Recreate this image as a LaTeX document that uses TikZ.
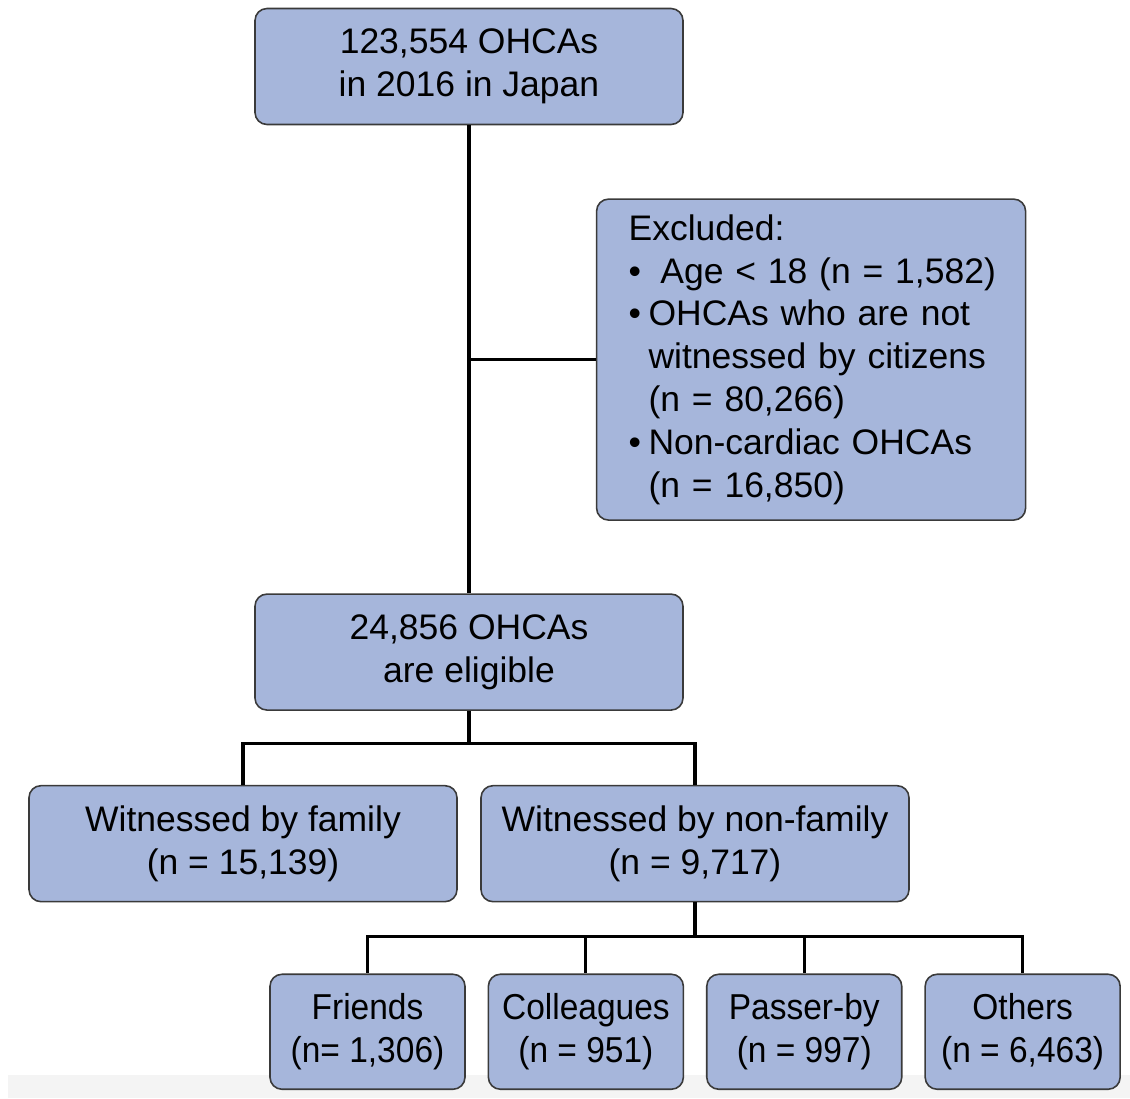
\documentclass[tikz,border=0pt]{standalone}
\usepackage{fontspec}
\setmainfont{Liberation Sans}
\newfontfamily\narrowsans[FakeStretch=0.93]{Liberation Sans}
\usepackage{tikz}
\usetikzlibrary{positioning}
\definecolor{flowBlue}{HTML}{A6B6DB}
\definecolor{flowEdge}{HTML}{3A3A3A}
\definecolor{flowBand}{HTML}{F4F4F4}
\newcommand{\blt}{\makebox[0.4cm][l]{\textbullet}}
\tikzset{
  box/.style={draw=flowEdge, line width=0.9pt, rounded corners=0.24cm, fill=flowBlue, align=center,
    inner sep=1pt, font=\fontsize{20.2}{24.4}\selectfont},
  boxMain/.style={box, minimum width=8.56cm, minimum height=2.32cm},
  boxExcl/.style={box, minimum height=6.42cm, text width=7.3cm, inner xsep=0.64cm, align=left},
  boxSmall/.style={box, minimum width=3.9cm, minimum height=2.3cm, font=\narrowsans\fontsize{20.5}{24.4}\selectfont},
  link/.style={line width=1.8pt, black}
}
\begin{document}
\begin{tikzpicture}
  \useasboundingbox (0,0) rectangle (22.6,-21.96);
  \fill[flowBand] (0.16,-21.5) rectangle (22.6,-21.96);

  \node[boxMain] (top) at (9.38,-1.33) {123,554 OHCAs\\in 2016 in Japan};
  \node[boxExcl, below=1.46cm of top.south east, anchor=north west, xshift=-1.76cm] (excl)
    {Excluded:\\
     \mbox{\blt\ Age < 18 (n = 1,582)}\\
     \mbox{\blt OHCAs who are not}\\
     \mbox{\hspace*{0.4cm}witnessed by citizens}\\
     \hspace*{0.4cm}(n = 80,266)\\
     \mbox{\blt Non-cardiac OHCAs}\\
     \hspace*{0.4cm}(n = 16,850)};
  \node[boxMain, below=9.36cm of top] (elig) {24,856 OHCAs\\are eligible};
  \node[boxMain, below=1.48cm of elig, xshift=-4.52cm] (fam) {Witnessed by family\\(n = 15,139)};
  \node[boxMain, below=1.48cm of elig, xshift=4.52cm] (nonfam) {Witnessed by non-family\\(n = 9,717)};

  \node[boxSmall, below=1.42cm of nonfam, xshift=-6.55cm] (friends) {Friends\\(n= 1,306)};
  \node[boxSmall, right=0.436cm of friends] (coll) {Colleagues\\(n = 951)};
  \node[boxSmall, right=0.436cm of coll] (passer) {Passer-by\\(n = 997)};
  \node[boxSmall, right=0.436cm of passer] (others) {Others\\(n = 6,463)};

  % trunk and exclusions
  \draw[link] (top) -- (elig);
  \draw[link] (top.south |- excl.west) -- (excl.west);

  % split by witness
  \draw[link] (elig.south) -- ++(0,-0.66) coordinate (split1) -| (fam.north);
  \draw[link] (split1) -| (nonfam.north);

  % split non-family
  \draw[link] (nonfam.south) -- ++(0,-0.68) coordinate (split2) -| (friends.north);
  \draw[link] (split2) -| (coll.north);
  \draw[link] (split2) -| (passer.north);
  \draw[link] (split2) -| (others.north);
\end{tikzpicture}
\end{document}
